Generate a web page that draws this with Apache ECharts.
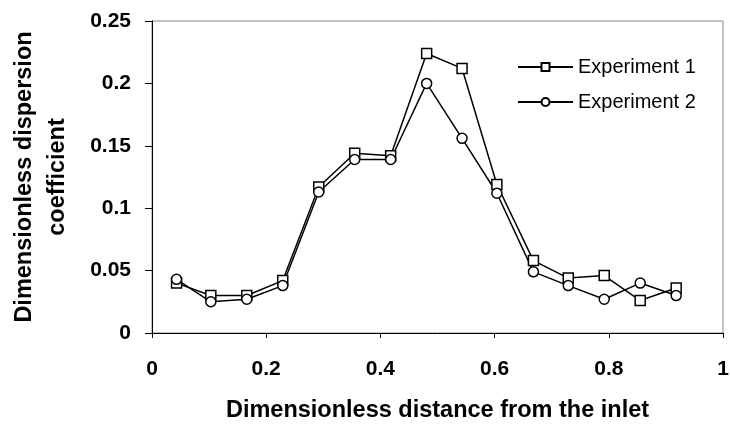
<!DOCTYPE html>
<html>
<head>
<meta charset="utf-8">
<script src="https://cdn.jsdelivr.net/npm/echarts@6/dist/echarts.min.js"></script>
<style>
  html, body { margin: 0; padding: 0; background: #fff; }
  #main { width: 730px; height: 428px; }
</style>
</head>
<body>
<div id="main"></div>
<script>
// dimensionless distance from the inlet
var distance = [0.043, 0.103, 0.166, 0.229, 0.292, 0.355, 0.418, 0.481, 0.543, 0.604, 0.668, 0.729, 0.792, 0.855, 0.918];
// dispersion coefficient
var experiment1 = [0.040, 0.030, 0.030, 0.042, 0.117, 0.144, 0.142, 0.224, 0.212, 0.119, 0.058, 0.044, 0.046, 0.026, 0.036];
var experiment2 = [0.043, 0.025, 0.027, 0.038, 0.113, 0.139, 0.139, 0.200, 0.156, 0.112, 0.049, 0.038, 0.027, 0.040, 0.030];
var seriesNames = ['Experiment 1', 'Experiment 2'];

function pairs(xs, ys) {
    var out = [];
    for (var i = 0; i < xs.length; i++) {
        out.push([xs[i], ys[i]]);
    }
    return out;
}

var font = '"Liberation Sans", Arial, sans-serif';
var chart = echarts.init(document.getElementById('main'));

var option = {
    animation: false,
    backgroundColor: '#fff',
    grid: {
        left: 152, right: 7, top: 21, bottom: 95,
        outerBoundsMode: 'none',
        show: true, borderColor: '#888', borderWidth: 1
    },
    legend: {
        orient: 'vertical',
        left: 517, top: 57, padding: 0,
        itemWidth: 55, itemHeight: 10, itemGap: 15,
        textStyle: { fontFamily: font, fontSize: 20, color: '#000', lineHeight: 20 },
        data: seriesNames
    },
    xAxis: {
        type: 'value', min: 0, max: 1, interval: 0.2,
        splitLine: { show: false },
        axisLine: { lineStyle: { color: '#000', width: 1 } },
        axisTick: { length: 5, lineStyle: { color: '#000' } },
        axisLabel: { margin: 26, fontFamily: font, fontSize: 21, fontWeight: 'bold', color: '#000' },
        name: 'Dimensionless distance from the inlet',
        nameLocation: 'middle', nameGap: 66,
        nameTextStyle: { fontFamily: font, fontSize: 23.5, fontWeight: 'bold', color: '#000' }
    },
    yAxis: {
        type: 'value', min: 0, max: 0.25, interval: 0.05,
        splitLine: { show: false },
        axisLine: { show: true, lineStyle: { color: '#000', width: 1 } },
        axisTick: { show: true, length: 7, lineStyle: { color: '#000' } },
        axisLabel: { margin: 21, fontFamily: font, fontSize: 21, fontWeight: 'bold', color: '#000' },
        name: 'Dimensionless dispersion\ncoefficient',
        nameLocation: 'middle', nameRotate: 90, nameGap: 78,
        nameTextStyle: { fontFamily: font, fontSize: 23.5, fontWeight: 'bold', color: '#000', lineHeight: 33 }
    },
    series: [{
        name: seriesNames[0],
        type: 'line',
        data: pairs(distance, experiment1),
        symbol: 'rect', symbolSize: 10,
        lineStyle: { color: '#000', width: 1.5 },
        itemStyle: { color: '#fff', borderColor: '#000', borderWidth: 1.5 }
    }, {
        name: seriesNames[1],
        type: 'line',
        data: pairs(distance, experiment2),
        symbol: 'circle', symbolSize: 10,
        lineStyle: { color: '#000', width: 1.5 },
        itemStyle: { color: '#fff', borderColor: '#000', borderWidth: 1.5 }
    }]
};

chart.setOption(option);
</script>
</body>
</html>
